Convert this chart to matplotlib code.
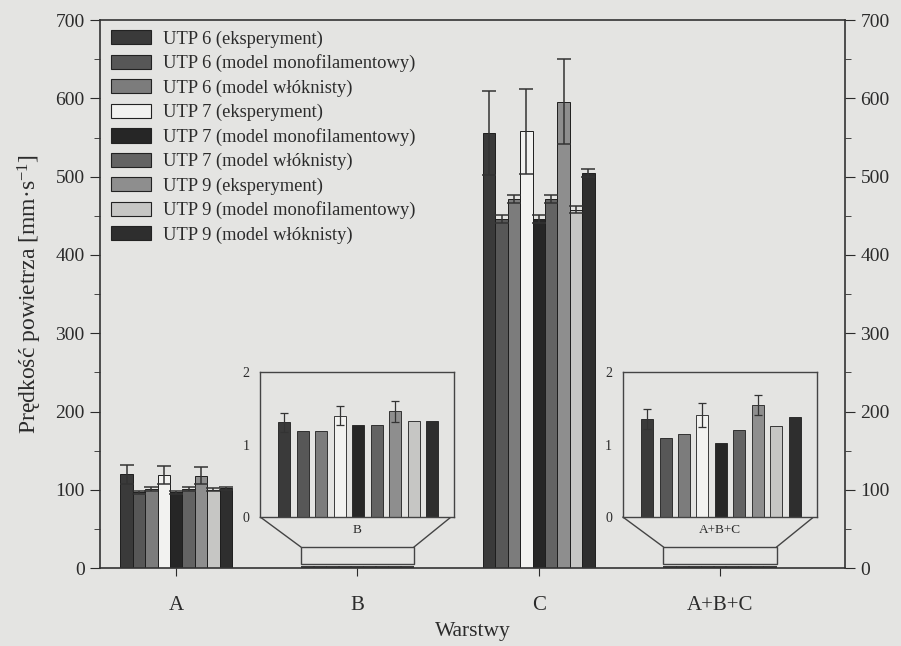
import matplotlib
matplotlib.use("Agg")
import matplotlib.pyplot as plt
import numpy as np
from matplotlib.patches import Patch, Rectangle
from matplotlib.ticker import MultipleLocator

plt.rcParams["font.family"] = ["Liberation Serif", "DejaVu Serif"]
plt.rcParams["mathtext.fontset"] = "custom"
plt.rcParams["mathtext.rm"] = "Liberation Serif"
plt.rcParams["mathtext.it"] = "Liberation Serif:italic"

# --- data -------------------------------------------------------------
layers = ["A", "B", "C", "A+B+C"]
series = [
    "UTP 6 (eksperyment)",
    "UTP 6 (model monofilamentowy)",
    "UTP 6 (model włóknisty)",
    "UTP 7 (eksperyment)",
    "UTP 7 (model monofilamentowy)",
    "UTP 7 (model włóknisty)",
    "UTP 9 (eksperyment)",
    "UTP 9 (model monofilamentowy)",
    "UTP 9 (model włóknisty)",
]
colors = ["#3a3a3a", "#575757", "#7c7c7c", "#f2f2f0", "#262626",
          "#636363", "#8e8e8e", "#c6c6c4", "#2e2e2e"]

# air velocity [mm/s], rows = series, cols = layers
vel_A = [120, 97, 101, 119, 97, 101, 118, 100, 102]
err_A = [12, 2, 2, 12, 2, 2, 11, 2, 2]
vel_B = [1.31, 1.19, 1.19, 1.40, 1.28, 1.27, 1.46, 1.33, 1.33]
err_B = [0.13, 0.0, 0.0, 0.13, 0.0, 0.0, 0.14, 0.0, 0.0]
vel_C = [556, 446, 472, 558, 446, 472, 596, 458, 505]
err_C = [54, 5, 5, 54, 5, 5, 54, 4, 5]
vel_ABC = [1.36, 1.10, 1.15, 1.41, 1.02, 1.20, 1.55, 1.26, 1.39]
err_ABC = [0.14, 0.0, 0.0, 0.17, 0.0, 0.0, 0.14, 0.0, 0.0]

values = np.array([vel_A, vel_B, vel_C, vel_ABC]).T
errors = np.array([err_A, err_B, err_C, err_ABC]).T

BG = "#e4e4e2"
INK = "#2b2b2b"

fig = plt.figure(figsize=(9.01, 6.46), dpi=100, facecolor=BG)
ax = fig.add_axes([0.111, 0.1207, 0.827, 0.848], facecolor=BG)

x = np.arange(len(layers))
n = len(series)
w = 0.0684
offsets = (np.arange(n) - (n - 1) / 2) * w

for i in range(n):
    ax.bar(x + offsets[i], values[i], w, color=colors[i], edgecolor="#1e1e1e",
           linewidth=0.7, yerr=errors[i], capsize=5,
           error_kw=dict(ecolor="#333333", elinewidth=1.1, capthick=1.1),
           zorder=2)

ax.set_xlim(-0.42, 3.69)
ax.set_ylim(0, 700)
ax.set_xticks(x)
ax.set_xticklabels(layers)
ax.yaxis.set_major_locator(MultipleLocator(100))
ax.yaxis.set_minor_locator(MultipleLocator(50))
ax.tick_params(axis="y", which="both", right=True, labelright=True,
               direction="out", colors=INK, labelsize=14)
ax.tick_params(axis="y", which="major", length=7, pad=4)
ax.tick_params(axis="y", which="minor", length=4)
ax.tick_params(axis="x", direction="out", length=6, pad=14, colors=INK, labelsize=15)
for s in ax.spines.values():
    s.set_color("#333333")
    s.set_linewidth(1.2)

ax.set_xlabel("Warstwy", fontsize=15.5, color=INK, labelpad=5)
ax.set_ylabel("Prędkość powietrza [mm·s$^{-1}$]", fontsize=17, color=INK, labelpad=8)

handles = [Patch(facecolor=c, edgecolor="#222222", linewidth=0.8) for c in colors]
ax.legend(handles, series, loc="upper left", bbox_to_anchor=(0.015, 0.982),
          frameon=False, fontsize=13.3, handlelength=2.15, handleheight=0.8,
          handletextpad=0.65, labelspacing=0.37, borderpad=0, borderaxespad=0,
          labelcolor=INK)

# --- magnified insets for B and A+B+C ----------------------------------
in_half = 0.535
in_bottom, in_top = 65, 250
box_bottom, box_top = 5, 27
box_half = (n / 2) * w + 0.005
inx = np.arange(n)

for k, lab in [(1, "B"), (3, "A+B+C")]:
    cx = x[k]
    iax = ax.inset_axes([cx - in_half, in_bottom, 2 * in_half, in_top - in_bottom],
                        transform=ax.transData)
    iax.set_facecolor(BG)
    iax.bar(inx, values[:, k], 0.65, color=colors, edgecolor="#1e1e1e",
            linewidth=0.6, yerr=np.where(errors[:, k] > 0, errors[:, k], np.nan),
            capsize=3, error_kw=dict(ecolor="#333333", elinewidth=0.9, capthick=0.9))
    iax.set_xlim(-1.3, 9.2)
    iax.set_ylim(0, 2)
    iax.set_xticks([])
    iax.set_yticks([0, 1, 2])
    iax.tick_params(axis="y", length=0, pad=8, labelsize=10, colors=INK)
    for s in iax.spines.values():
        s.set_color("#444444")
        s.set_linewidth(1.0)

    # funnel down to the group's footprint on the main axis
    ax.plot([cx - in_half, cx - box_half], [in_bottom, box_top], color="#444444", lw=1.0, zorder=3)
    ax.plot([cx + in_half - 0.02, cx + box_half], [in_bottom, box_top], color="#444444", lw=1.0, zorder=3)
    ax.add_patch(Rectangle((cx - box_half, box_bottom), 2 * box_half, box_top - box_bottom,
                           facecolor="none", edgecolor="#444444", lw=1.0, zorder=3))
    ax.text(cx, (in_bottom + box_top) / 2 + 2, lab, ha="center", va="center",
            fontsize=9.5, color=INK)

fig.savefig("out.png", dpi=100, facecolor=BG)
